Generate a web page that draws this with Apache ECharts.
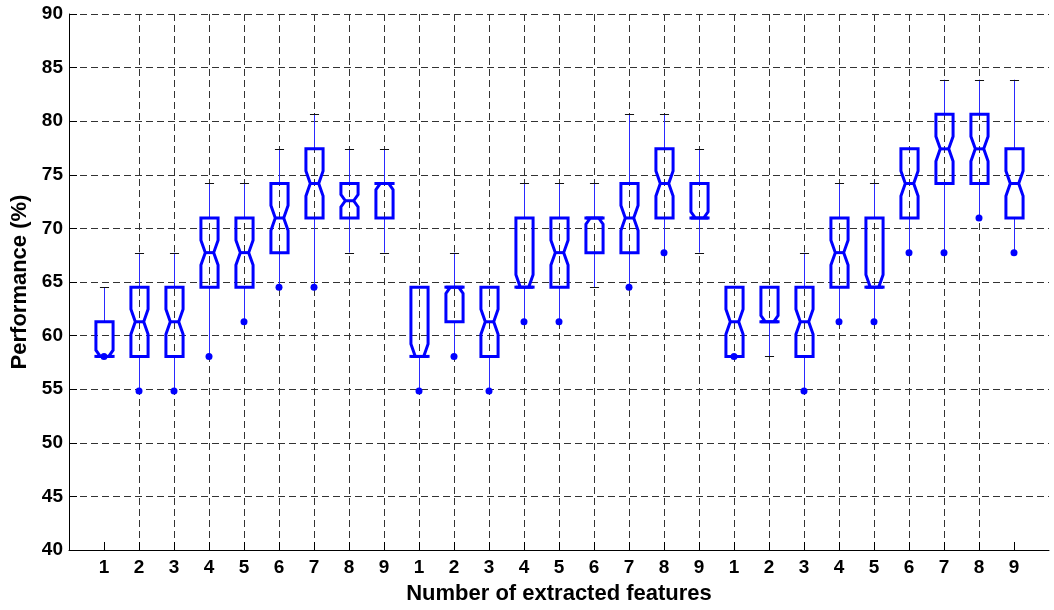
<!DOCTYPE html>
<html><head><meta charset="utf-8">
<script src="https://cdn.jsdelivr.net/npm/echarts@6/dist/echarts.min.js"></script>
<style>html,body{margin:0;padding:0;background:#fff}#c{width:1054px;height:610px}</style>
</head><body><div id="c"></div>
<script>
const xLabels = ['1','2','3','4','5','6','7','8','9','1','2','3','4','5','6','7','8','9','1','2','3','4','5','6','7','8','9'];
const yTicks = [40,45,50,55,60,65,70,75,80,85,90];
const whiskerLow  = [58.06,54.84,54.84,58.06,61.29,64.52,64.52,67.74,67.74, 54.84,58.06,54.84,61.29,61.29,64.52,64.52,67.74,67.74, 58.06,58.06,54.84,61.29,61.29,67.74,67.74,70.97,67.74];
const q1          = [58.06,58.06,58.06,64.52,64.52,67.74,70.97,70.97,70.97, 58.06,61.29,58.06,64.52,64.52,67.74,67.74,70.97,70.97, 58.06,61.29,58.06,64.52,64.52,70.97,74.19,74.19,70.97];
const median      = [58.06,61.29,61.29,67.74,67.74,70.97,74.19,72.58,74.19, 58.06,64.52,61.29,64.52,67.74,70.97,70.97,74.19,70.97, 61.29,61.29,61.29,67.74,64.52,74.19,77.42,77.42,74.19];
const q3          = [61.29,64.52,64.52,70.97,70.97,74.19,77.42,74.19,74.19, 64.52,64.52,64.52,70.97,70.97,70.97,74.19,77.42,74.19, 64.52,64.52,64.52,70.97,70.97,77.42,80.65,80.65,77.42];
const whiskerHigh = [64.52,67.74,67.74,74.19,74.19,77.42,80.65,77.42,77.42, 64.52,67.74,64.52,74.19,74.19,74.19,80.65,80.65,77.42, 64.52,64.52,67.74,74.19,74.19,77.42,83.87,83.87,83.87];
const outliers = [[58.06],[54.84],[54.84],[58.06],[61.29],[64.52],[64.52],[],[],
                  [54.84],[58.06],[54.84],[61.29],[61.29],[],[64.52],[67.74],[],
                  [58.06],[],[54.84],[61.29],[61.29],[67.74],[67.74],[70.97],[67.74]];

const FONT = 'Liberation Sans, Arial, sans-serif';
const boxData = xLabels.map((_, i) => [i + 1, whiskerLow[i], q1[i], median[i], q3[i], whiskerHigh[i]]);
const outlierData = [];
outliers.forEach((arr, i) => arr.forEach(v => outlierData.push([i + 1, v])));
const tickPos = xLabels.map((_, i) => i + 1);

const HALF = 0.245, INNER = 0.12, CAP = 0.13, NOTCH = 0.18;
const BLUE = '#0000ff';

function renderItem(params, api) {
  const x = api.value(0), lo = api.value(1), a = api.value(2), m = api.value(3), b = api.value(4), hi = api.value(5);
  const unit = api.size([1, 0])[0];
  const P = v => api.coord([x, v]);
  const cx = Math.round(P(m)[0]) + 0.5;
  const yq1 = P(a)[1], yq3 = P(b)[1], ym = P(m)[1], ylo = P(lo)[1], yhi = P(hi)[1];
  const n = NOTCH * (b - a);
  const yn1 = P(Math.max(a, m - n))[1], yn2 = P(Math.min(b, m + n))[1];
  const L = cx - HALF * unit, R = cx + HALF * unit, iL = cx - INNER * unit, iR = cx + INNER * unit;
  const ch = [];
  const thin = { stroke: '#2a2aff', lineWidth: 1 };
  if (hi > b) ch.push({ type: 'line', shape: { x1: cx, y1: yq3, x2: cx, y2: yhi }, style: thin });
  if (lo < a) ch.push({ type: 'line', shape: { x1: cx, y1: yq1, x2: cx, y2: ylo }, style: thin });
  const capStyle = { stroke: '#111', lineWidth: 1 };
  ch.push({ type: 'line', shape: { x1: cx - CAP * unit, y1: Math.round(yhi) + 0.5, x2: cx + CAP * unit, y2: Math.round(yhi) + 0.5 }, style: capStyle });
  const outs = outliers[params.dataIndex];
  if (outs.indexOf(lo) < 0) {
    ch.push({ type: 'line', shape: { x1: cx - CAP * unit, y1: Math.round(ylo) + 0.5, x2: cx + CAP * unit, y2: Math.round(ylo) + 0.5 }, style: capStyle });
  }
  ch.push({
    type: 'polygon',
    shape: { points: [[L, yq1], [L, yn1], [iL, ym], [L, yn2], [L, yq3], [R, yq3], [R, yn2], [iR, ym], [R, yn1], [R, yq1]] },
    style: { fill: 'none', stroke: BLUE, lineWidth: 3, lineJoin: 'miter' }
  });
  if (m > a && m < b) {
    ch.push({ type: 'line', shape: { x1: iL, y1: ym, x2: iR, y2: ym }, style: { stroke: BLUE, lineWidth: 3 } });
  } else {
    ch.push({ type: 'line', shape: { x1: L - 1.5, y1: ym, x2: R + 1.5, y2: ym }, style: { stroke: BLUE, lineWidth: 3 } });
  }
  return { type: 'group', children: ch };
}

const chart = echarts.init(document.getElementById('c'));
chart.setOption({
  animation: false,
  backgroundColor: '#fff',
  grid: { left: 69, right: 5, top: 14, bottom: 59, containLabel: false },
  xAxis: {
    type: 'value', min: 0, max: 28, interval: 1,
    name: 'Number of extracted features', nameLocation: 'middle', nameGap: 33,
    nameTextStyle: { fontFamily: FONT, fontSize: 22, fontWeight: 'bold', color: '#000' },
    axisLine: { show: true, onZero: false, lineStyle: { color: '#000', width: 1 } },
    axisTick: { show: true, inside: true, length: 8, customValues: tickPos, lineStyle: { color: '#000' } },
    axisLabel: { customValues: tickPos, formatter: v => xLabels[v - 1] || '', fontFamily: FONT, fontSize: 19, fontWeight: 'bold', color: '#000', margin: 8 },
    splitLine: { show: true, showMinLine: false, showMaxLine: false, lineStyle: { type: [7, 4], color: '#333', width: 1 } }
  },
  yAxis: {
    type: 'value', min: yTicks[0], max: yTicks[yTicks.length - 1], interval: 5,
    name: 'Performance (%)', nameLocation: 'middle', nameGap: 36,
    nameTextStyle: { fontFamily: FONT, fontSize: 22, fontWeight: 'bold', color: '#000' },
    axisLine: { show: true, lineStyle: { color: '#000', width: 1 } },
    axisTick: { show: true, inside: true, length: 8, lineStyle: { color: '#000' } },
    axisLabel: { fontFamily: FONT, fontSize: 19, fontWeight: 'bold', color: '#000', margin: 6 },
    splitLine: { show: true, showMinLine: false, lineStyle: { type: [7, 4], color: '#333', width: 1 } }
  },
  series: [
    { type: 'custom', renderItem: renderItem, data: boxData, encode: { x: 0, y: [1, 2, 3, 4, 5] }, z: 2, clip: false },
    { type: 'scatter', data: outlierData, symbol: 'circle', symbolSize: 7, itemStyle: { color: BLUE, opacity: 1 }, z: 3 }
  ]
});
</script></body></html>
